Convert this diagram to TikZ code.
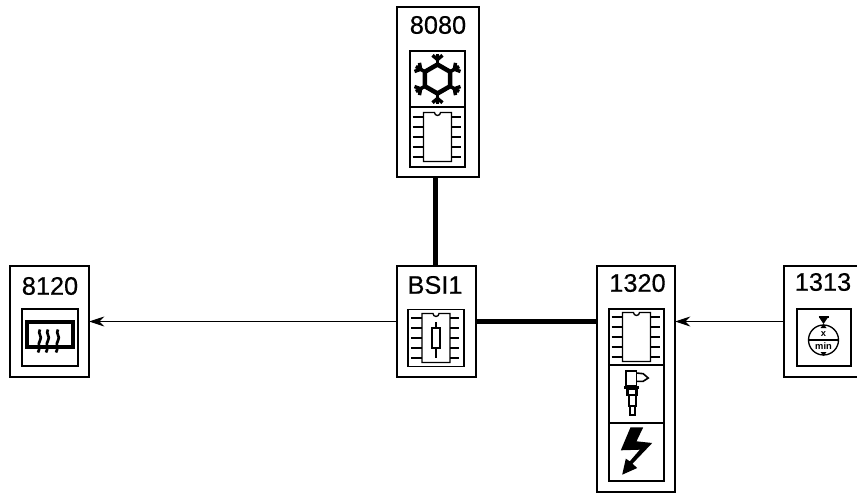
\documentclass[tikz,border=0pt]{standalone}
\usepackage{fontspec}
\setmainfont{Liberation Sans}
\usepackage{tikz}
\usetikzlibrary{arrows.meta}
\tikzset{
  ecu/.style={draw,line width=1.2pt,inner sep=0pt,outer sep=0pt},
  cell/.style={draw,line width=1.1pt,inner sep=0pt,outer sep=0pt},
  lbl/.style={font=\fontsize{19}{20}\selectfont\addfontfeature{FakeBold=0.5},inner sep=0pt},
  tiny/.style={font=\fontsize{7}{7}\bfseries\selectfont,inner sep=0pt},
  arr/.style={-{Stealth[length=11.5pt,width=7.5pt]},line width=0.8pt},
  bus/.style={line width=3.8pt},
  chip/.pic={
    \draw[line width=1pt] (-14,-24.5) -- (-3,-24.5) arc[start angle=180,end angle=0,radius=3]
      -- (14,-24.5) -- (14,24.5) -- (-14,24.5) -- cycle;
    \foreach \y in {-20,-10,0,10,20} {
      \draw[line width=0.9pt] (-25,\y) -- (-14,\y) (14,\y) -- (23,\y);
    }
  },
  fuse/.pic={
    \draw[line width=1pt] (0,-16) -- (0,20);
    \draw[line width=1pt,fill=white] (-4,-10) rectangle (4,10);
  },
  flake/.pic={
    \draw[line width=3.4pt] (30:14.5) -- (90:14.5) -- (150:14.5) -- (210:14.5) -- (270:14.5) -- (330:14.5) -- cycle;
    \foreach \a in {30,90,150,210,270,330} {
      \draw[line width=2.6pt] (\a:14.5) -- (\a:25);
      \draw[line width=2.6pt] (\a:19.5) -- +(\a+50:6.5) (\a:19.5) -- +(\a-50:6.5);
    }
  },
  rearwin/.pic={
    \draw[line width=2.8pt] (-23,-15.5) rectangle (23,9.5);
    \foreach \x in {-10,-2,8} {
      \draw[line width=2pt] (\x,-8) .. controls (\x-3,-4) and (\x+3,-1) .. (\x,3)
        .. controls (\x-3,7) and (\x+1,11) .. (\x-2,15);
    }
  },
  injector/.pic={
    \draw[line width=1.4pt] (-10.7,-22.7) rectangle (0,-8.3);
    \draw[line width=1.2pt] (0,-21) -- (6.7,-20.3) -- (11.7,-16) -- (6.7,-12.7) -- (0,-12.7);
    \fill (-12.7,-8.3) rectangle (2.7,-5);
    \draw[line width=1.6pt] (-9,-5) rectangle (0,0.7);
    \draw[line width=1.3pt] (-7.3,0.7) rectangle (-0.7,12.3);
    \draw[line width=1.3pt] (-6.7,12.3) rectangle (-1.7,20.7);
  },
  bolt/.pic={
    \fill (-6,-24.7) -- (6.7,-24.7) -- (0,-10.7) -- (15.7,-9) -- (-4,11.7) -- (0.7,16)
      -- (-14.3,22.7) -- (-10.7,6.7) -- (-6.7,9.3) -- (3.3,-2.3) -- (-15.7,-1.7) -- cycle;
  },
  timerdial/.pic={
    \draw[line width=1pt] (0,0) circle[radius=15];
    \draw[line width=1pt] (-15,0) -- (15,0);
    \draw[line width=1pt] (-5,-23) -- (5,-23);
    \fill (-4,-22) -- (4,-22) -- (0,-16) -- cycle;
    \fill (-3,-12) -- (3,-12) -- (0,-16) -- cycle;
    \fill (-3,12) -- (3,12) -- (0,16) -- cycle;
  },
}
\begin{document}
\begin{tikzpicture}[x=0.75pt,y=-0.75pt]
\clip (0,0) rectangle (857,493);
% 8080: top unit
\node[ecu,minimum width=61.5pt,minimum height=127.5pt] (n8080) at (438,92) {};
\node[lbl] (t8080) at (438,25) {8080};
\node[cell,minimum width=41.25pt,minimum height=42pt] (c8080a) at (437.5,79) {};
\node[cell,minimum width=41.25pt,minimum height=45pt] (c8080b) at (437.5,137) {};
\pic at (c8080a) {flake};
\pic at (c8080b) {chip};
% 8120: rear window
\node[ecu,minimum width=59.25pt,minimum height=83.25pt] (n8120) at (49.5,321.5) {};
\node[lbl] (t8120) at (50,286) {8120};
\node[cell,minimum width=42pt,minimum height=42.75pt] (c8120) at (50,337.5) {};
\pic at (c8120) {rearwin};
% BSI1: centre unit
\node[ecu,minimum width=59.25pt,minimum height=83.25pt] (bsi) at (436.5,321.5) {};
\node[lbl] (tbsi) at (435,285) {BSI1};
\node[cell,minimum width=42pt,minimum height=42.75pt] (cbsi) at (436,338) {};
\pic at (cbsi) {chip};
\pic at (cbsi) {fuse};
% 1320: engine unit
\node[ecu,minimum width=58.5pt,minimum height=169.5pt] (n1320) at (636,379) {};
\node[lbl] (t1320) at (637.5,283) {1320};
\node[cell,minimum width=41.25pt,minimum height=42pt] (c1320a) at (636.5,337) {};
\node[cell,minimum width=41.25pt,minimum height=43.5pt] (c1320b) at (636.5,394) {};
\node[cell,minimum width=41.25pt,minimum height=43.5pt] (c1320c) at (636.5,452) {};
\pic at (c1320a) {chip};
\pic at (c1320b) {injector};
\pic at (c1320c) {bolt};
% 1313: runs off the right edge
\node[ecu,minimum width=64.5pt,minimum height=83.25pt] (n1313) at (827,321.5) {};
\node[lbl] (t1313) at (823,282) {1313};
\node[cell,minimum width=40.5pt,minimum height=42.75pt] (c1313) at (824,337.5) {};
\pic at (823.5,340) {timerdial};
\node[tiny] (xdial) at (823.5,334) {x};
\node[tiny] (mindial) at (823.5,346) {min};
% links
\draw[bus] ([xshift=-1pt]bsi.north) -- ([xshift=-1pt]bsi.north |- n8080.south);
\draw[bus] (bsi.east) -- (bsi.east -| n1320.west);
\draw[arr] (bsi.west) -- (n8120.east);
\draw[arr] (n1313.west) -- (n1313.west -| n1320.east);
\end{tikzpicture}
\end{document}
